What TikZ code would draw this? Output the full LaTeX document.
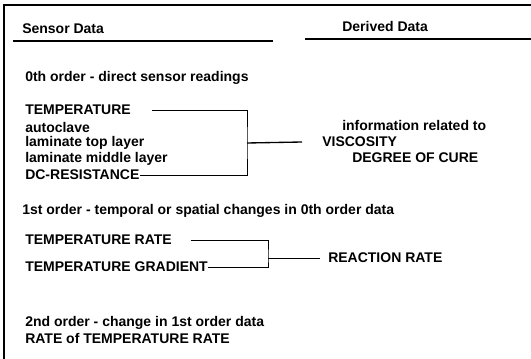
\documentclass[tikz,border=0pt]{standalone}
\usepackage{fontspec}
\setmainfont{Liberation Sans}
\usetikzlibrary{calc, positioning}

\begin{document}
\begin{tikzpicture}[x=0.75pt, y=-0.75pt,
    entry/.style={anchor=west, inner sep=0pt, font=\fontsize{10.5}{12}\selectfont\bfseries},
    frameline/.style={line width=0.8pt},
    headrule/.style={line width=1.6pt},
    bracket/.style={line width=0.7pt}]
  \useasboundingbox (0, 0) rectangle (531, 359);

  % Frame and column headers
  \draw[frameline] (4, 359) -- (4, 5) -- (531, 5);
  \node[entry] (sensor) at (22, 29) {Sensor Data};
  \node[entry] (derived) at (342, 27) {Derived Data};
  \draw[headrule] (13, 41) -- (273, 41);
  \draw[headrule] (305, 39) -- (531, 39);

  % 0th order
  \node[entry] (zeroth) at (25, 78) {0th order - direct sensor readings};
  \node[entry] (temp) at (25, 110) {TEMPERATURE};
  \node[entry] (autoclave) at (25, 127) {autoclave};
  \node[entry] (toplayer) at (25, 143) {laminate top layer};
  \node[entry] (midlayer) at (25, 159) {laminate middle layer};
  \node[entry] (dcres) at (25, 175) {DC-RESISTANCE};

  \node[entry] (info) at (342, 125) {information related to};
  \node[entry] (visc) at (322, 142) {VISCOSITY};
  \node[entry] (cure) at (352, 158) {DEGREE OF CURE};

  \coordinate (join0) at (247, 143);
  \draw[bracket] ([xshift=16]temp.east) -| (join0) |- (dcres.east);
  \draw[bracket, line width=1pt] (join0) -- ([xshift=-15]visc.west);

  % 1st order
  \node[entry] (first) at (22, 211) {1st order - temporal or spatial changes in 0th order data};
  \node[entry] (trate) at (25, 240) {TEMPERATURE RATE};
  \node[entry] (tgrad) at (25, 267) {TEMPERATURE GRADIENT};
  \node[entry] (rrate) at (328, 258) {REACTION RATE};

  \coordinate (join1) at (268, 258);
  \draw[bracket] ([xshift=14]trate.east) -| (join1) |- (tgrad.east);
  \draw[bracket] (join1) -- ([xshift=-6]rrate.west);

  % 2nd order
  \node[entry] (second) at (25, 323) {2nd order - change in 1st order data};
  \node[entry] (rrrate) at (25, 338) {RATE of TEMPERATURE RATE};
\end{tikzpicture}
\end{document}
